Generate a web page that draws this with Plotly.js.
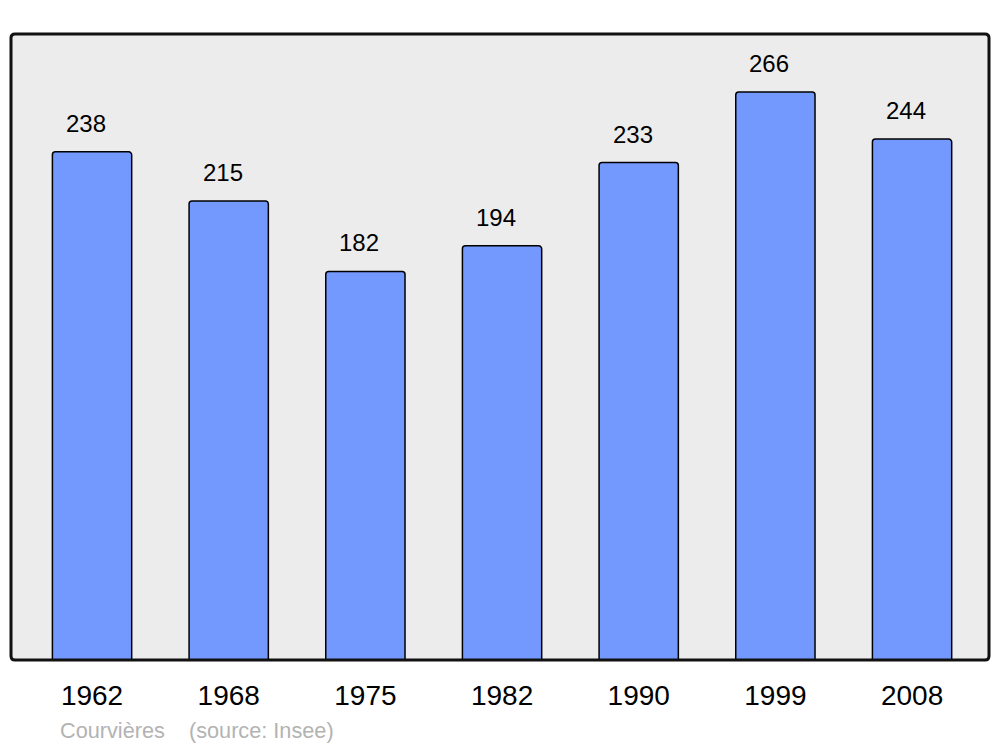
<!DOCTYPE html>
<html>
<head>
<meta charset="utf-8">
<script src="https://cdn.plot.ly/plotly-3.0.1.min.js"></script>
<style>html,body{margin:0;padding:0;background:#fff;}#chart{width:1000px;height:747px;}</style>
</head>
<body>
<div id="chart"></div>
<script>
const years = ["1962", "1968", "1975", "1982", "1990", "1999", "2008"];
const population = [238, 215, 182, 194, 233, 266, 244];
const sourceText = "Courvières    (source: Insee)";

const W = 1000, H = 747;
const mL = 11, mR = 11, mT = 34, mB = 87;
const pw = W - mL - mR, ph = H - mT - mB;
const idx = years.map((_, i) => i);

// rounded frame in paper coords
const r = 4, rx = r / pw, ry = r / ph;
const framePath = `M ${rx},0 L ${1-rx},0 Q 1,0 1,${ry} L 1,${1-ry} Q 1,1 ${1-rx},1 L ${rx},1 Q 0,1 0,${1-ry} L 0,${ry} Q 0,0 ${rx},0 Z`;

const trace = {
  type: "bar",
  x: idx,
  y: population,
  width: 0.58,
  marker: { color: "#7399ff", line: { color: "#000", width: 1.5 }, cornerradius: 3 },
  hoverinfo: "skip"
};

const annotations = idx.map((i) => ({
  x: i, y: population[i], xref: "x", yref: "y",
  text: String(population[i]), showarrow: false,
  yanchor: "bottom", yshift: 13, xshift: -6,
  font: { family: "Liberation Sans, Arial, sans-serif", size: 24, color: "#000" }
}));
annotations.push({
  x: (58 - mL) / pw, y: 0, xref: "paper", yref: "paper", xanchor: "left", yanchor: "middle",
  yshift: -(730 - 660), text: sourceText.replace(/ /g, "&nbsp;"), showarrow: false,
  font: { family: "Liberation Sans, Arial, sans-serif", size: 21.7, color: "#b3b3b3" }
});

const layout = {
  width: W, height: H,
  margin: { l: mL, r: mR, t: mT, b: mB, pad: 0 },
  paper_bgcolor: "#ffffff",
  plot_bgcolor: "#ececec",
  showlegend: false,
  xaxis: {
    range: [-0.593, 6.563], tickvals: idx, ticktext: years,
    showgrid: false, zeroline: false, showline: false,
    ticks: "outside", ticklen: 10, tickcolor: "rgba(0,0,0,0)",
    tickfont: { family: "Liberation Sans, Arial, sans-serif", size: 28, color: "#000" },
    fixedrange: true
  },
  yaxis: {
    range: [0, 293.2], showgrid: false, zeroline: false, showline: false,
    showticklabels: false, ticks: "", fixedrange: true
  },
  shapes: [{
    type: "path", xref: "paper", yref: "paper", path: framePath,
    line: { color: "#111", width: 3 }, layer: "above"
  }],
  annotations: annotations
};

Plotly.newPlot("chart", [trace], layout, { displayModeBar: false, staticPlot: true });
</script>
</body>
</html>
